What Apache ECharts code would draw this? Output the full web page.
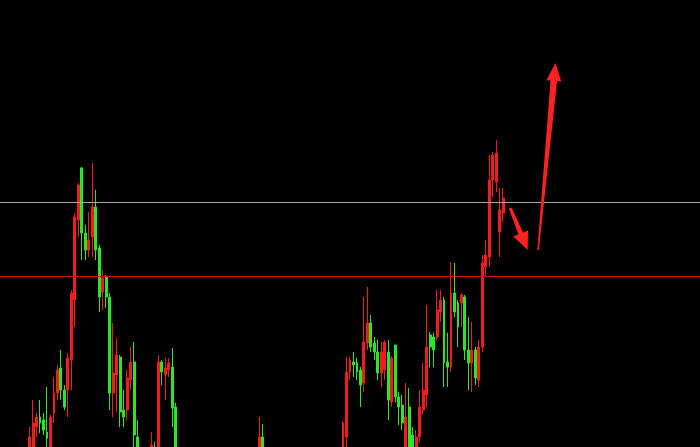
<!DOCTYPE html>
<html>
<head>
<meta charset="utf-8">
<script src="https://cdn.jsdelivr.net/npm/echarts@6/dist/echarts.min.js"></script>
<style>
  html, body { margin: 0; padding: 0; background: #000; }
  #chart { width: 700px; height: 447px; }
</style>
</head>
<body>
<div id="chart"></div>
<script>
// Session slots on the time axis
const slotCount = 201;

// Visible candles: slot index and OHLC values
const dayIndex = [8, 9, 10, 11, 12, 13, 14, 15, 16, 17, 18, 19, 20, 21, 22, 23, 24, 25, 26, 27, 28, 29,
  30, 31, 32, 33, 34, 35, 36, 37, 38, 39, 43, 44, 45, 46, 47, 48, 49, 50,
  74, 75,
  98, 99, 100, 101, 102, 103, 104, 105, 106, 107, 108, 109, 110, 111, 112, 113, 114, 115, 116, 117,
  118, 119, 120, 121, 122, 123, 124, 125, 126, 127, 128, 129, 130, 131, 132, 133, 134, 135, 136, 137,
  138, 139, 140, 141, 142, 143, 144];
const openP = [-5, -8, 20, 30, 27, 15, -3, 34, 54, 79, 57, 57, 87, 147, 227, 279, 214, 197, 210, 240, 199, 155,
  170, 150, 54, 72, 90, 37, 37, 67, 85, 10, -20, 0, -10, 85, 72, 77, 80, 40,
  -10, 10,
  -10, 10, 75, 85, 84, 77, 64, 104, 124, 104, 95, 74, 77, 95, 45, 102, 50, 42, -10, 40,
  12, -5, 10, 37, 52, 112, 110, 110, 135, 147, 85, 80, 154, 144, 144, 150, 97, 84, 97, 67,
  100, 180, 190, 267, 265, 215, 234];
const closeP = [10, 24, 30, 24, 17, 9, 30, 54, 77, 57, 40, 89, 154, 230, 262, 214, 197, 207, 240, 197, 150, 169,
  150, 54, 74, 92, 35, 30, 69, 85, 12, -10, 2, -15, 85, 75, 79, 84, 39, -10,
  10, -10,
  24, 75, 87, 82, 75, 62, 105, 124, 100, 95, 74, 95, 105, 47, 89, 50, 40, 24, 30, -10,
  -10, 10, 40, 57, 100, 100, 97, 137, 147, 84, 80, 154, 135, 120, 152, 97, 84, 97, 69, 100,
  184, 192, 267, 292, 294, 237, 249];
const lowP = [-10, -12, 10, 14, 12, -5, -8, 24, 47, 47, 37, 30, 57, 120, 210, 187, 187, 190, 190, 187, 135, 137,
  139, 37, 30, 35, 20, 20, 27, 57, 0, -15, -25, -20, -15, 62, 47, 70, 20, -15,
  -15, -15,
  -15, 0, 67, 70, 67, 40, 55, 97, 95, 87, 67, 60, 67, 27, 40, 45, 22, 17, -15, -15,
  -15, -10, 5, 32, 40, 80, 80, 107, 125, 60, 60, 75, 130, 100, 120, 87, 57, 55, 62, 60,
  95, 170, 180, 250, 255, 190, 225];
const highP = [20, 47, 34, 47, 34, 60, 32, 70, 82, 97, 62, 94, 157, 234, 264, 280, 222, 235, 284, 257, 202, 177,
  172, 154, 124, 109, 92, 57, 77, 100, 105, 27, 15, 5, 92, 87, 89, 89, 99, 44,
  30, 23,
  26, 90, 90, 95, 89, 80, 150, 160, 132, 110, 107, 105, 107, 107, 91, 102, 55, 52, 64, 59,
  20, 17, 57, 84, 142, 115, 114, 157, 157, 150, 114, 185, 184, 147, 154, 152, 130, 125, 100, 107,
  192, 207, 292, 295, 307, 259, 259];

// Horizontal reference levels
const upperLevel = 245;
const lowerLevel = 171;

// Annotation arrows as [slot, value] anchor pairs: tail then tip
const arrowDown = [[146.4, 239], [150.8, 197]];
const arrowUp = [[153.7, 197], [158.8, 384]];

const categories = [];
const candles = [];
for (let i = 0; i < slotCount; i++) {
  categories.push(String(i + 1));
  candles.push(['-', '-', '-', '-']);
}
dayIndex.forEach((d, k) => {
  candles[d] = [openP[k], closeP[k], lowP[k], highP[k]];
});

const RED = '#f31c1c';
const GREEN = '#27e827';

const chart = echarts.init(document.getElementById('chart'), null, { renderer: 'canvas' });
chart.setOption({
  backgroundColor: '#000000',
  animation: false,
  grid: { left: 0, right: 0, top: 0, bottom: 0 },
  xAxis: {
    type: 'category',
    data: categories,
    boundaryGap: true,
    show: false
  },
  yAxis: {
    type: 'value',
    min: 0,
    max: 447,
    show: false,
    splitLine: { show: false }
  },
  series: [{
    type: 'candlestick',
    data: candles,
    clip: true,
    barWidth: 2.4,
    itemStyle: {
      color: RED,
      color0: GREEN,
      borderColor: RED,
      borderColor0: GREEN,
      borderWidth: 1
    },
    markLine: {
      silent: true,
      symbol: ['none', 'none'],
      label: { show: false },
      data: [
        { yAxis: upperLevel, lineStyle: { color: '#a8a8a8', width: 1, type: 'solid' } },
        { yAxis: lowerLevel, lineStyle: { color: '#c41414', width: 1, type: 'solid' } }
      ]
    }
  }]
});

// Tapered arrow polygon between two data-space anchors
function arrowPoints(pair, tailW, shaftW, headLen, headW) {
  const t = chart.convertToPixel({ seriesIndex: 0 }, pair[0]);
  const p = chart.convertToPixel({ seriesIndex: 0 }, pair[1]);
  const dx = p[0] - t[0], dy = p[1] - t[1];
  const len = Math.hypot(dx, dy);
  const ux = dx / len, uy = dy / len;
  const nx = -uy, ny = ux;
  const bx = p[0] - ux * headLen, by = p[1] - uy * headLen;
  return [
    [t[0] + nx * tailW / 2, t[1] + ny * tailW / 2],
    [bx + nx * shaftW / 2, by + ny * shaftW / 2],
    [bx + nx * headW / 2, by + ny * headW / 2],
    [p[0], p[1]],
    [bx - nx * headW / 2, by - ny * headW / 2],
    [bx - nx * shaftW / 2, by - ny * shaftW / 2],
    [t[0] - nx * tailW / 2, t[1] - ny * tailW / 2]
  ];
}

chart.setOption({
  graphic: [
    { type: 'polygon', shape: { points: arrowPoints(arrowDown, 3, 5, 18, 16) }, style: { fill: '#fb2222' }, z: 100 },
    { type: 'polygon', shape: { points: arrowPoints(arrowUp, 1.5, 6.5, 18, 15) }, style: { fill: '#fb2222' }, z: 100 }
  ]
});
</script>
</body>
</html>
